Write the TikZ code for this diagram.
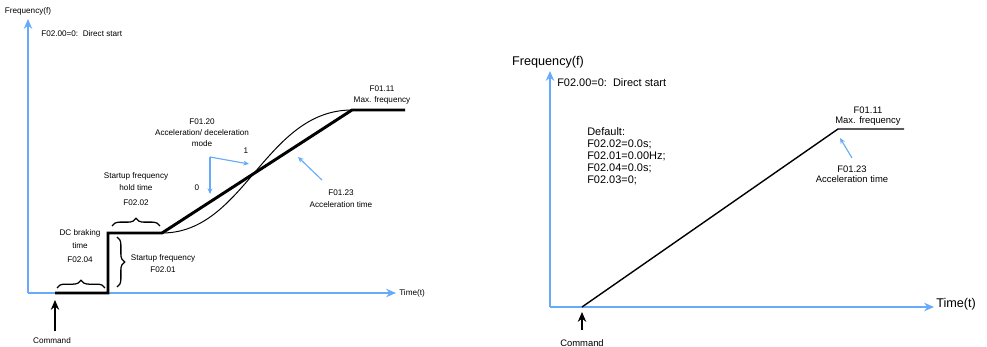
\documentclass[tikz,border=0pt]{standalone}
\usepackage{fontspec}
\setmainfont{Liberation Sans}
\usetikzlibrary{arrows.meta,decorations.pathreplacing,positioning}
\definecolor{axisblue}{RGB}{102,170,250}
\tikzstyle{axis} = [draw=axisblue, line width=1.4pt, -{Stealth[length=7pt,width=6pt]}]
\tikzstyle{hint} = [draw=axisblue, line width=0.8pt, -{Stealth[length=4pt,width=3.5pt]}]
\tikzstyle{ramp} = [draw, line width=2.1pt]
\tikzstyle{scurve} = [draw, line width=0.7pt]
\tikzstyle{cmd} = [draw, line width=1pt, -{Stealth[length=7pt,width=6pt]}]
\tikzstyle{brc} = [draw, line width=0.9pt, decorate, decoration={brace, amplitude=5.5pt}]
\tikzstyle{small} = [font=\fontsize{5.8}{8.5}\selectfont, align=center, inner sep=0pt]
\tikzstyle{note} = [font=\fontsize{6.7}{7.4}\selectfont, align=center, inner sep=0pt]
\tikzstyle{mid} = [font=\fontsize{7.8}{8.6}\selectfont, align=left, inner sep=0pt]
\tikzstyle{big} = [font=\fontsize{9}{11}\selectfont, inner sep=0pt]

\begin{document}
\begin{tikzpicture}[x=0.025cm, y=-0.025cm]
    \useasboundingbox (0,0) rectangle (987,347);

    % left chart
    \coordinate (o1) at (28,293);
    \coordinate (ytop1) at (28,19);
    \coordinate (xend1) at (396,293);
    \draw [axis] (o1) -- (ytop1);
    \draw [axis] (o1) -- (xend1);
    \node [small] (freq1) at (28,11) {Frequency(f)};
    \node [small, anchor=west] (time1) at (399,293) {Time(t)};
    \node [small, anchor=west] (mode1) at (41,34) {F02.00=0:\ \ Direct start};

    \coordinate (a1) at (55,293);
    \coordinate (a2) at (108,293);
    \coordinate (a3) at (108,233);
    \coordinate (a4) at (162,233);
    \coordinate (a5) at (352,110);
    \coordinate (a6) at (405,110);
    \draw [scurve] (a4) .. controls (245,233) and (265,110) .. (a5);
    \draw [ramp] (a1) -- (a2) -- (a3) -- (a4) -- (a5) -- (a6);

    \draw [brc] (57,288) -- (105,288);
    \draw [brc] (112,226) -- (160,226);
    \draw [brc] (117,237) -- (117,287);

    \node [small] (dc) at (80,246) {DC braking\\[1pt]time\\[1.5pt]F02.04};
    \node [small] (hold) at (136,189) {Startup frequency\\hold time\\[2.5pt]F02.02};
    \node [small] (start) at (163,264) {Startup frequency\\F02.01};
    \node [small, font=\fontsize{5.8}{7.8}\selectfont] (mode) at (202,133) {F01.20\\Acceleration/ deceleration\\mode};
    \node [small] (max1) at (382,95) {F01.11\\Max. frequency};
    \node [small] (acc1) at (341,199) {F01.23\\Acceleration time};

    \coordinate (h0) at (210,157);
    \coordinate (h1) at (249,164);
    \coordinate (h2) at (210,194);
    \draw [hint] (h0) -- (h1);
    \draw [hint] (h0) -- (h2);
    \node [small] (one) at (246,151) {1};
    \node [small] (zero) at (197,188) {0};

    \coordinate (p1) at (322,180);
    \coordinate (p2) at (298,157);
    \draw [hint] (p1) -- (p2);

    \coordinate (c1) at (55,331);
    \coordinate (c1t) at (55,300);
    \draw [cmd] (c1) -- (c1t);
    \node [small] (cmd1) at (52,341) {Command};

    % right chart
    \coordinate (o2) at (550,307);
    \coordinate (ytop2) at (550,71);
    \coordinate (xend2) at (934,307);
    \draw [axis] (o2) -- (ytop2);
    \draw [axis] (o2) -- (xend2);
    \node [big] (freq2) at (548,62) {Frequency(f)};
    \node [big, anchor=west] (time2) at (936,304) {Time(t)};
    \node [mid, anchor=west] (mode2) at (557,83) {F02.00=0:\ \ Direct start};
    \node [mid, anchor=north west] (def) at (587,127) {Default:\\F02.02=0.0s;\\F02.01=0.00Hz;\\F02.04=0.0s;\\F02.03=0;};

    \coordinate (b1) at (582,307);
    \coordinate (b2) at (838,129);
    \coordinate (b3) at (904,129);
    \draw [line width=1pt] (b1) -- (b2) -- (b3);
    \node [note] (max2) at (868,116) {F01.11\\Max. frequency};
    \node [note] (acc2) at (852,174) {F01.23\\Acceleration time};

    \coordinate (q1) at (852,158);
    \coordinate (q2) at (840,138);
    \draw [hint] (q1) -- (q2);

    \coordinate (c2) at (582,330);
    \coordinate (c2t) at (582,312);
    \draw [cmd] (c2) -- (c2t);
    \node [note] (cmd2) at (582,343) {Command};
\end{tikzpicture}
\end{document}
